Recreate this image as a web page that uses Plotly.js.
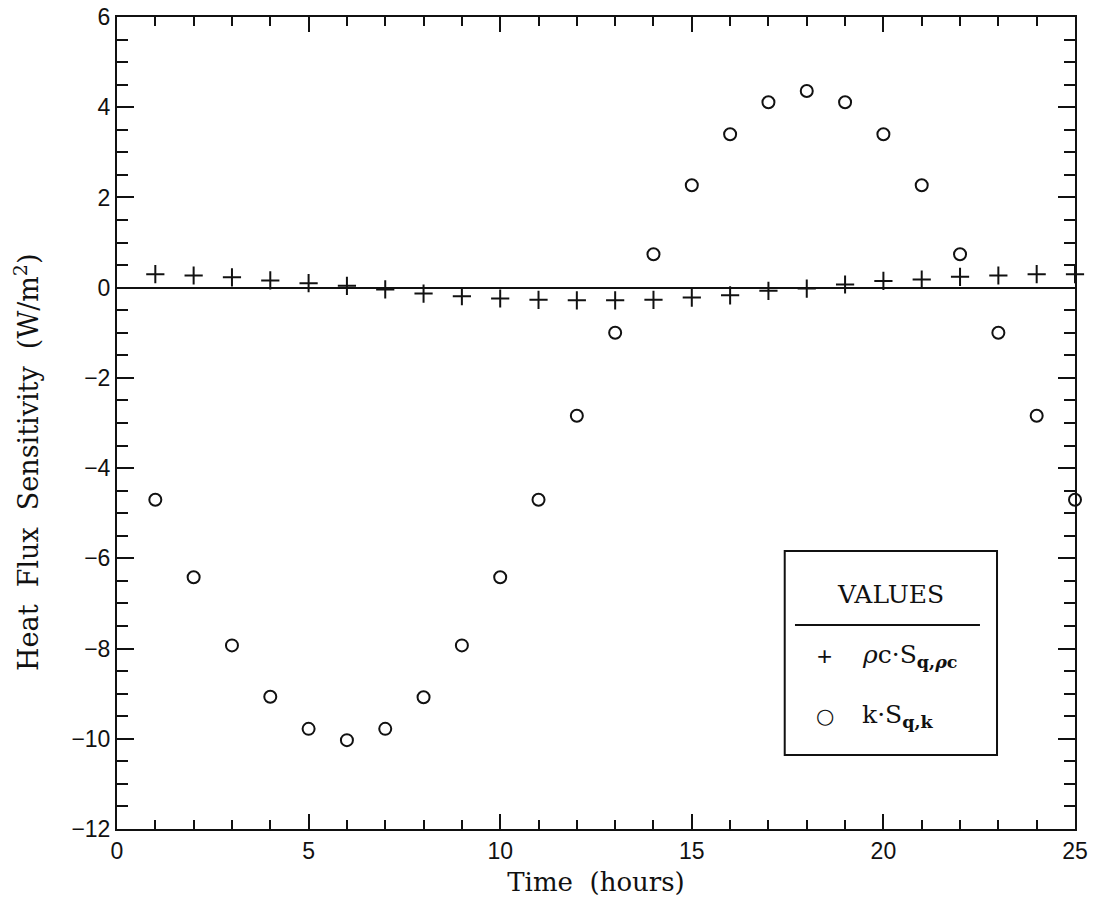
<!DOCTYPE html>
<html>
<head>
<meta charset="utf-8">
<script src="https://cdn.plot.ly/plotly-3.0.1.min.js"></script>
<style>html,body{margin:0;padding:0;background:#fff;}#chart{width:1095px;height:907px;}</style>
</head>
<body>
<div id="chart"></div>
<script>
// Data
const hours = [1,2,3,4,5,6,7,8,9,10,11,12,13,14,15,16,17,18,19,20,21,22,23,24,25];
const rhoC_S = [0.30,0.27,0.23,0.16,0.10,0.04,-0.04,-0.13,-0.19,-0.24,-0.27,-0.28,-0.28,-0.27,-0.22,-0.17,-0.07,-0.02,0.07,0.15,0.18,0.24,0.27,0.30,0.30];
const k_S = [-4.7,-6.42,-7.93,-9.07,-9.78,-10.03,-9.78,-9.08,-7.93,-6.42,-4.7,-2.84,-1.0,0.74,2.27,3.4,4.11,4.36,4.11,3.4,2.27,0.74,-1.0,-2.84,-4.7];
const xTicks = [0,5,10,15,20,25];
const yTicks = [-12,-10,-8,-6,-4,-2,0,2,4,6];
const xTitle = 'Time\u00a0\u00a0(hours)';
const yTitle = 'Heat\u00a0\u00a0Flux\u00a0\u00a0Sensitivity\u00a0\u00a0(W/m<sup>2</sup>)';
const legendTitle = "VALUES";
const legendLabels = ["<i>\u03c1</i>c\u00b7S<sub><b>q,<i>\u03c1</i>c</b></sub>", "k\u00b7S<sub><b>q,k</b></sub>"];

const serif = "DejaVu Serif, Liberation Serif, serif";
const sans = "Liberation Sans, Arial, sans-serif";

const traces = [
  {x: hours, y: rhoC_S, mode: 'markers', type: 'scatter', name: 'rhoc',
   marker: {symbol: 'cross-thin-open', size: 13, color: '#111', line: {color: '#111', width: 2}}, cliponaxis: false},
  {x: hours, y: k_S, mode: 'markers', type: 'scatter', name: 'k',
   marker: {symbol: 'circle-open', size: 12, color: '#111', line: {color: '#111', width: 2}}, cliponaxis: false}
];

const L = {x0: 0.697, x1: 0.9186, y0: 0.0911, y1: 0.3424};
const layout = {
  width: 1095, height: 907,
  margin: {l: 117, r: 20, t: 17, b: 78},
  paper_bgcolor: '#fff', plot_bgcolor: '#fff',
  showlegend: false,
  xaxis: {
    range: [0, 25], tickvals: xTicks, ticktext: xTicks.map(String),
    ticks: 'inside', ticklen: 15, tickwidth: 2, tickcolor: '#111',
    minor: {dtick: 1, tick0: 0, ticks: 'inside', ticklen: 9, tickwidth: 2, tickcolor: '#111'},
    showline: true, linecolor: '#111', linewidth: 2, mirror: 'allticks',
    showgrid: false, zeroline: false,
    tickfont: {family: sans, size: 23, color: '#111'},
    title: {text: xTitle, font: {family: serif, size: 26, color: '#111'}, standoff: 10}
  },
  yaxis: {
    range: [-12, 6], tickvals: yTicks,
    ticks: 'inside', ticklen: 17, tickwidth: 2, tickcolor: '#111',
    minor: {dtick: 0.5, tick0: 0, ticks: 'inside', ticklen: 11, tickwidth: 2, tickcolor: '#111'},
    showline: true, linecolor: '#111', linewidth: 2, mirror: 'allticks',
    showgrid: false, zeroline: true, zerolinecolor: '#111', zerolinewidth: 2,
    tickfont: {family: sans, size: 23, color: '#111'}
  },
  shapes: [
    {type: 'rect', xref: 'paper', yref: 'paper', x0: L.x0, x1: L.x1, y0: L.y0, y1: L.y1,
     line: {color: '#111', width: 2}, fillcolor: '#fff'},
    {type: 'line', xref: 'paper', yref: 'paper', x0: 0.7077, x1: 0.9008, y0: 0.2512, y1: 0.2512,
     line: {color: '#111', width: 2}}
  ],
  annotations: [
    {xref: 'paper', yref: 'paper', x: -0.094, y: 0.452, text: yTitle, textangle: -90, showarrow: false,
     font: {family: serif, size: 27, color: '#111'}, xanchor: 'center', yanchor: 'middle'},
    {xref: 'paper', yref: 'paper', x: 0.807, y: 0.289, text: legendTitle, showarrow: false,
     font: {family: serif, size: 25, color: '#111'}, xanchor: 'center', yanchor: 'middle'},
    {xref: 'paper', yref: 'paper', x: 0.739, y: 0.213, text: '+', showarrow: false,
     font: {family: sans, size: 26, color: '#111'}, xanchor: 'center', yanchor: 'middle'},
    {xref: 'paper', yref: 'paper', x: 0.776, y: 0.213, text: legendLabels[0], showarrow: false,
     font: {family: serif, size: 25, color: '#111'}, xanchor: 'left', yanchor: 'middle'},
    {xref: 'paper', yref: 'paper', x: 0.739, y: 0.139, text: '\u25cb', showarrow: false,
     font: {family: 'DejaVu Sans, sans-serif', size: 21, color: '#111'}, xanchor: 'center', yanchor: 'middle'},
    {xref: 'paper', yref: 'paper', x: 0.776, y: 0.139, text: legendLabels[1], showarrow: false,
     font: {family: serif, size: 25, color: '#111'}, xanchor: 'left', yanchor: 'middle'}
  ]
};

Plotly.newPlot('chart', traces, layout, {staticPlot: true, displayModeBar: false});
</script>
</body>
</html>
